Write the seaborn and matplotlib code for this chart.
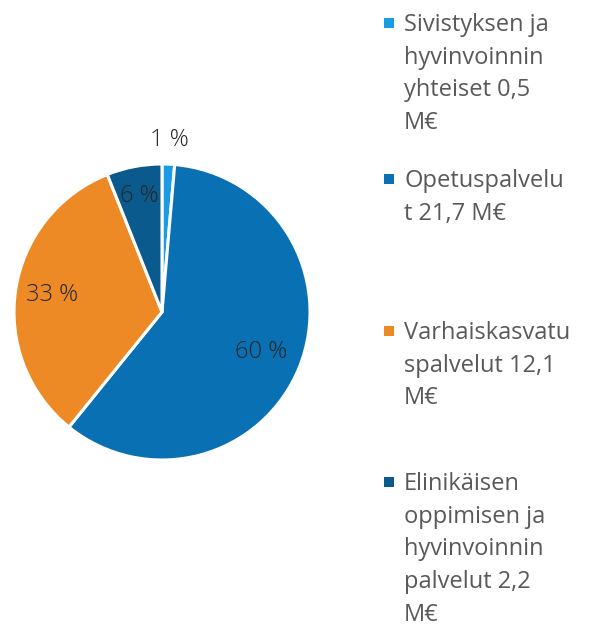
import numpy as np
import matplotlib
matplotlib.use("Agg")
import matplotlib.pyplot as plt
import seaborn as sns
from matplotlib.patches import Rectangle

sns.set_theme(style="white")
plt.rcParams['font.family'] = ['Open Sans', 'DejaVu Sans']

categories = [
    "Sivistyksen ja\nhyvinvoinnin\nyhteiset 0,5\nM€",
    "Opetuspalvelu\nt 21,7 M€",
    "Varhaiskasvatu\nspalvelut 12,1\nM€",
    "Elinikäisen\noppimisen ja\nhyvinvoinnin\npalvelut 2,2\nM€",
]
values = [0.5, 21.7, 12.1, 2.2]
pct_labels = ["1 %", "60 %", "33 %", "6 %"]
colors = ["#1a9be6", "#0a70b4", "#ee8a26", "#0b5a8e"]
label_dist = [1.16, 0.72, 0.75, 0.80]

fig = plt.figure(figsize=(5.89, 6.24), dpi=100)
W, H = 589, 624
cx, cy, r = 162, 312, 148
ax = fig.add_axes([(cx - r) / W, 1 - (cy + r) / H, 2 * r / W, 2 * r / H])
wedges, _ = ax.pie(values, colors=colors, startangle=90, counterclock=False,
                   wedgeprops=dict(edgecolor="white", linewidth=2.2))
ax.set_aspect("equal")
ax.set_xlim(-1, 1)
ax.set_ylim(-1, 1)
ax.axis("off")

for w, lab, d in zip(wedges, pct_labels, label_dist):
    ang = np.deg2rad((w.theta1 + w.theta2) / 2)
    ax.text(d * np.cos(ang), d * np.sin(ang), lab, ha="center", va="center",
            fontsize=17, color="#262626", fontweight="light")

tops = [13, 169, 321, 472]
for lab, col, t in zip(categories, colors, tops):
    fig.text(404 / W, 1 - t / H, lab, ha="left", va="top", fontsize=17,
             color="#595959", linespacing=1.48)
    fig.patches.append(Rectangle((384 / W, 1 - (t + 15) / H), 10 / W, 10 / H,
                                 transform=fig.transFigure, facecolor=col,
                                 edgecolor="none"))

fig.savefig("out.png", dpi=100)
